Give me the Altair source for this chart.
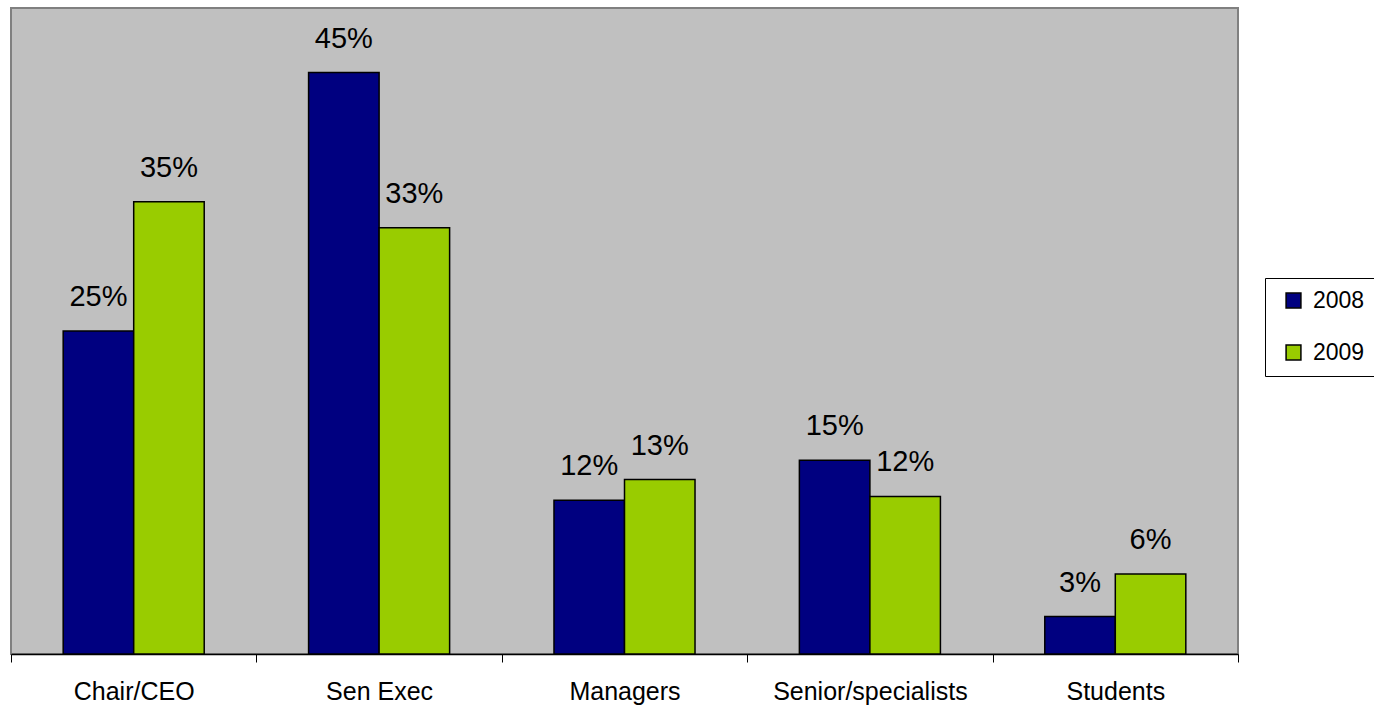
import altair as alt
import pandas as pd

categories = ["Chair/CEO", "Sen Exec", "Managers", "Senior/specialists", "Students"]
series = ["2008", "2009"]
values_2008 = [25, 45, 11.9, 15, 2.9]
values_2009 = [35, 33, 13.5, 12.2, 6.2]
labels_2008 = ["25%", "45%", "12%", "15%", "3%"]
labels_2009 = ["35%", "33%", "13%", "12%", "6%"]
colors = ["#000080", "#99CC00"]

rows = []
for c, v, l in zip(categories, values_2008, labels_2008):
    rows.append({"category": c, "year": "2008", "value": v, "label": l})
for c, v, l in zip(categories, values_2009, labels_2009):
    rows.append({"category": c, "year": "2009", "value": v, "label": l})
df = pd.DataFrame(rows)

FONT = "Liberation Sans"

x_enc = alt.X(
    "category:N",
    sort=categories,
    scale=alt.Scale(paddingInner=0, paddingOuter=0),
    axis=alt.Axis(
        title=None,
        labelAngle=0,
        tickBand="extent",
        tickSize=8,
        tickColor="black",
        tickWidth=1,
        domainColor="black",
        domainWidth=1.5,
        labelFont=FONT,
        labelFontSize=25,
        labelColor="black",
        labelPadding=17,
        labelLimit=0,
    ),
)
xoff_enc = alt.XOffset("year:N", sort=series, scale=alt.Scale(paddingOuter=0.74, paddingInner=0))
y_enc = alt.Y("value:Q", scale=alt.Scale(domain=[0, 50], nice=False, zero=True), axis=None)

bars = alt.Chart(df).mark_bar(stroke="black", strokeWidth=1.5).encode(
    x=x_enc,
    xOffset=xoff_enc,
    y=y_enc,
    color=alt.Color(
        "year:N",
        sort=series,
        scale=alt.Scale(domain=series, range=colors),
        legend=alt.Legend(
            title=None,
            orient="none",
            legendX=1254,
            legendY=270,
            symbolType="square",
            symbolSize=220,
            symbolStrokeColor="black",
            symbolStrokeWidth=1.5,
            symbolOffset=6,
            labelFont=FONT,
            labelFontSize=23,
            labelColor="black",
            labelOffset=8,
            rowPadding=28,
            padding=11,
            strokeColor="black",
            fillColor="white",
        ),
    ),
)

text = alt.Chart(df).mark_text(
    font=FONT, fontSize=29, color="black", baseline="alphabetic", dy=-25
).encode(
    x=alt.X("category:N", sort=categories),
    xOffset=alt.XOffset("year:N", sort=series),
    y=alt.Y("value:Q"),
    text="label:N",
)

chart = (
    alt.layer(bars, text)
    .properties(
        width=1227,
        height=646,
        autosize=alt.AutoSizeParams(type="none"),
        padding={"left": 11, "top": 8, "right": 136, "bottom": 56},
        background="white",
    )
    .configure_view(fill="#C0C0C0", stroke="#808080", strokeWidth=2)
)

chart.save("out.html", embed_options={"renderer": "svg", "actions": False})
